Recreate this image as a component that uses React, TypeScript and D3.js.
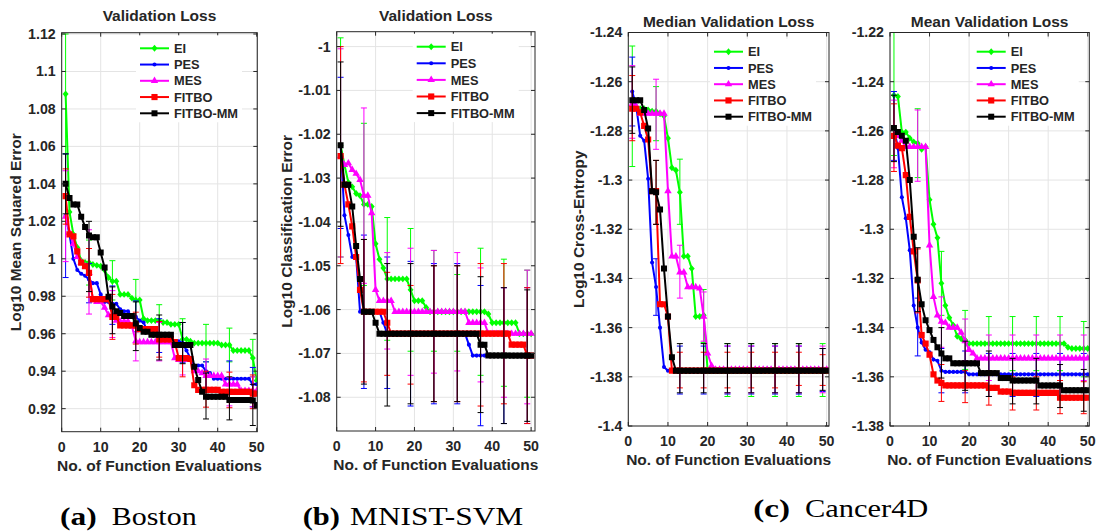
import React from "react";
import * as d3 from "d3";

// ---------------- DATA ----------------
const evals = [1, 2, 3, 4, 5, 6, 7, 8, 9, 10, 11, 12, 13, 14, 15, 16, 17, 18, 19, 20,
  21, 22, 23, 24, 25, 26, 27, 28, 29, 30, 31, 32, 33, 34, 35, 36, 37, 38, 39, 40,
  41, 42, 43, 44, 45, 46, 47, 48, 49, 50];
const errEvals = [1, 7, 13, 19, 25, 31, 37, 43, 49];
const xTicks = [0, 10, 20, 30, 40, 50];
const methods = ["EI", "PES", "MES", "FITBO", "FITBO-MM"];

// (a) Boston
const bostonYTicks = [0.92, 0.94, 0.96, 0.98, 1, 1.02, 1.04, 1.06, 1.08, 1.1, 1.12];
const bostonEI = [1.088, 1.025, 1.013, 1.006, 0.999, 0.998, 0.998, 0.997, 0.9965, 0.996,
  0.994, 0.990, 0.988, 0.988, 0.981, 0.981, 0.981, 0.979, 0.978, 0.978,
  0.968, 0.967, 0.967, 0.967, 0.967, 0.966, 0.966, 0.965, 0.965, 0.965,
  0.957, 0.957, 0.956, 0.955, 0.955, 0.955, 0.955, 0.955, 0.955, 0.955,
  0.954, 0.954, 0.954, 0.951, 0.951, 0.951, 0.951, 0.951, 0.947, 0.935];
const bostonPES = [1.023, 1.013, 1.000, 0.994, 0.992, 0.991, 0.989, 0.987, 0.987, 0.981,
  0.977, 0.977, 0.976, 0.976, 0.973, 0.972, 0.972, 0.969, 0.969, 0.967,
  0.966, 0.961, 0.960, 0.960, 0.960, 0.959, 0.956, 0.956, 0.956, 0.956,
  0.955, 0.951, 0.947, 0.943, 0.943, 0.943, 0.940, 0.939, 0.936, 0.936,
  0.936, 0.936, 0.936, 0.936, 0.936, 0.936, 0.936, 0.936, 0.933, 0.933];
const bostonMES = [1.0225, 1.014, 1.008, 1.001, 0.998, 0.996, 0.9925, 0.978, 0.977, 0.977,
  0.974, 0.970, 0.970, 0.967, 0.9665, 0.9665, 0.9665, 0.964, 0.956, 0.9555,
  0.9555, 0.9555, 0.9555, 0.9555, 0.9555, 0.9555, 0.9555, 0.9555, 0.947, 0.946,
  0.946, 0.946, 0.946, 0.940, 0.940, 0.939, 0.9375, 0.9375, 0.9375, 0.9375,
  0.9375, 0.933, 0.933, 0.933, 0.933, 0.9295, 0.9295, 0.9295, 0.9295, 0.9295];
const bostonFITBO = [1.0335, 1.013, 1.012, 1.004, 0.998, 0.996, 0.9925, 0.9785, 0.9785, 0.9785,
  0.9785, 0.9785, 0.969, 0.969, 0.9645, 0.9645, 0.9645, 0.9645, 0.9645, 0.9625,
  0.9625, 0.9625, 0.9625, 0.9625, 0.957, 0.957, 0.957, 0.957, 0.9555, 0.947,
  0.947, 0.947, 0.9465, 0.9325, 0.930, 0.930, 0.930, 0.930, 0.930, 0.930,
  0.929, 0.929, 0.929, 0.929, 0.929, 0.929, 0.929, 0.929, 0.928, 0.928];
const bostonFITBOMM = [1.040, 1.0325, 1.029, 1.029, 1.0225, 1.017, 1.0125, 1.0115, 1.0115, 1.0033,
  0.9953, 0.9798, 0.9745, 0.972, 0.971, 0.9695, 0.9695, 0.9695, 0.9655, 0.963,
  0.961, 0.961, 0.9595, 0.9595, 0.9595, 0.9595, 0.9595, 0.9595, 0.954, 0.954,
  0.954, 0.954, 0.954, 0.9424, 0.9353, 0.929, 0.9264, 0.9264, 0.9264, 0.9264,
  0.9264, 0.9264, 0.9246, 0.9246, 0.9246, 0.9246, 0.9246, 0.9246, 0.9243, 0.922];
const bostonEIErr = [[1.056, 1.12], [0.986, 1.010], [0.978, 0.999], [0.967, 0.989], [0.958, 0.9755],
  [0.947, 0.968], [0.945, 0.965], [0.945, 0.963], [0.937, 0.957]];
const bostonPESErr = [[0.99, 1.056], [0.9765, 0.9975], [0.965, 0.9855], [0.961, 0.9775], [0.950, 0.968],
  [0.9445, 0.966], [0.931, 0.945], [0.925, 0.9455], [0.921, 0.942]];
const bostonMESErr = [[0.9985, 1.047], [0.9705, 1.0155], [0.958, 0.983], [0.9455, 0.966], [0.9455, 0.966],
  [0.938, 0.955], [0.929, 0.9465], [0.9215, 0.9365], [0.921, 0.937]];
const bostonFITBOErr = [[1.0185, 1.048], [0.9795, 1.0055], [0.957, 0.981], [0.9545, 0.9715], [0.9475, 0.9665],
  [0.937, 0.955], [0.9208, 0.940], [0.9205, 0.9395], [0.920, 0.938]];
const bostonFITBOMMErr = [[1.024, 1.056], [0.9825, 1.02], [0.960, 0.985], [0.951, 0.977], [0.946, 0.970],
  [0.944, 0.966], [0.9145, 0.939], [0.914, 0.937], [0.911, 0.933]];

// (b) MNIST-SVM
const mnistYTicks = [-1.08, -1.07, -1.06, -1.05, -1.04, -1.03, -1.02, -1.01, -1];
const mnistEI = [-1.0225, -1.027, -1.031, -1.032, -1.0335, -1.034, -1.036, -1.036, -1.0365, -1.045,
  -1.0485, -1.0505, -1.053, -1.053, -1.053, -1.053, -1.053, -1.053, -1.0555, -1.058,
  -1.058, -1.058, -1.0595, -1.0605, -1.0605, -1.0605, -1.0605, -1.0605, -1.0605, -1.0605,
  -1.0605, -1.0605, -1.0605, -1.0605, -1.0605, -1.0605, -1.0605, -1.0605, -1.061, -1.063,
  -1.063, -1.063, -1.063, -1.063, -1.063, -1.063, -1.0655, -1.0655, -1.0655, -1.0655];
const mnistPES = [-1.0225, -1.0385, -1.043, -1.048, -1.048, -1.0605, -1.0605, -1.0605, -1.0605, -1.0605,
  -1.0605, -1.063, -1.0655, -1.0655, -1.0655, -1.0655, -1.0655, -1.0655, -1.0655, -1.0655,
  -1.0655, -1.0655, -1.0655, -1.0655, -1.0655, -1.0655, -1.0655, -1.0655, -1.0655, -1.0655,
  -1.0655, -1.0655, -1.0655, -1.068, -1.0705, -1.0705, -1.0705, -1.0705, -1.0705, -1.0705,
  -1.0705, -1.0705, -1.0705, -1.0705, -1.0705, -1.0705, -1.0705, -1.0705, -1.0705, -1.0705];
const mnistMES = [-1.025, -1.027, -1.0266, -1.0281, -1.029, -1.0304, -1.034, -1.034, -1.038, -1.0555,
  -1.058, -1.058, -1.058, -1.058, -1.0605, -1.0605, -1.0605, -1.0605, -1.0605, -1.0605,
  -1.0605, -1.0605, -1.0605, -1.0605, -1.0605, -1.0605, -1.0605, -1.0605, -1.0605, -1.0605,
  -1.0605, -1.0605, -1.0605, -1.063, -1.063, -1.063, -1.063, -1.063, -1.0655, -1.0655,
  -1.0655, -1.0655, -1.0655, -1.0655, -1.0655, -1.0655, -1.0655, -1.0655, -1.0655, -1.0655];
const mnistFITBO = [-1.025, -1.0315, -1.036, -1.041, -1.048, -1.0555, -1.0605, -1.0605, -1.0605, -1.0605,
  -1.0605, -1.0605, -1.063, -1.0655, -1.0655, -1.0655, -1.0655, -1.0655, -1.0655, -1.0655,
  -1.0655, -1.0655, -1.0655, -1.0655, -1.0655, -1.0655, -1.0655, -1.0655, -1.0655, -1.0655,
  -1.0655, -1.0655, -1.0655, -1.0655, -1.0655, -1.0655, -1.0655, -1.0655, -1.0655, -1.0655,
  -1.0655, -1.0655, -1.0655, -1.0655, -1.068, -1.068, -1.068, -1.068, -1.0705, -1.0705];
const mnistFITBOMM = [-1.0225, -1.0315, -1.0315, -1.0365, -1.0455, -1.053, -1.0605, -1.0605, -1.0605, -1.063,
  -1.0655, -1.0655, -1.0655, -1.0655, -1.0655, -1.0655, -1.0655, -1.0655, -1.0655, -1.0655,
  -1.0655, -1.0655, -1.0655, -1.0655, -1.0655, -1.0655, -1.0655, -1.0655, -1.0655, -1.0655,
  -1.0655, -1.0655, -1.0655, -1.0655, -1.0655, -1.0655, -1.068, -1.068, -1.0705, -1.0705,
  -1.0705, -1.0705, -1.0705, -1.0705, -1.0705, -1.0705, -1.0705, -1.0705, -1.0705, -1.0705];
const mnistEIErr = [[-1.048, -0.998], [-1.0545, -1.0175], [-1.067, -1.039], [-1.0695, -1.0415], [-1.0695, -1.0465],
  [-1.0695, -1.052], [-1.075, -1.046], [-1.0775, -1.0485], [-1.080, -1.051]];
const mnistPESErr = [[-1.0415, -1.007], [-1.078, -1.043], [-1.078, -1.048], [-1.082, -1.049], [-1.0815, -1.0495],
  [-1.0815, -1.0495], [-1.0865, -1.0545], [-1.086, -1.055], [-1.086, -1.055]];
const mnistMESErr = [[-1.048, -1.0005], [-1.054, -1.014], [-1.069, -1.047], [-1.075, -1.046], [-1.0745, -1.0465],
  [-1.074, -1.047], [-1.0765, -1.0505], [-1.080, -1.055], [-1.0815, -1.051]];
const mnistFITBOErr = [[-1.0495, -1.0], [-1.0765, -1.044], [-1.075, -1.0515], [-1.077, -1.0545], [-1.081, -1.05],
  [-1.081, -1.05], [-1.082, -1.0495], [-1.0815, -1.0495], [-1.086, -1.055]];
const mnistFITBOMMErr = [[-1.041, -1.0035], [-1.077, -1.044], [-1.082, -1.0495], [-1.0815, -1.0495], [-1.081, -1.05],
  [-1.081, -1.05], [-1.0835, -1.0525], [-1.086, -1.055], [-1.0855, -1.0555]];

// (c) Cancer4D — median
const medianYTicks = [-1.4, -1.38, -1.36, -1.34, -1.32, -1.3, -1.28, -1.26, -1.24];
const medianEI = [-1.270, -1.2705, -1.271, -1.271, -1.2715, -1.272, -1.272, -1.273, -1.274, -1.283,
  -1.295, -1.296, -1.305, -1.331, -1.331, -1.336, -1.3555, -1.3555, -1.355, -1.3775,
  -1.3775, -1.3775, -1.3775, -1.3775, -1.3775, -1.3775, -1.3775, -1.3775, -1.3775, -1.3775,
  -1.3775, -1.3775, -1.3775, -1.3775, -1.3775, -1.3775, -1.3775, -1.3775, -1.3775, -1.3775,
  -1.3775, -1.3775, -1.3775, -1.3775, -1.3775, -1.3775, -1.3775, -1.3775, -1.3775, -1.3775];
const medianPES = [-1.264, -1.27, -1.282, -1.284, -1.2995, -1.3335, -1.3435, -1.360, -1.376, -1.3775,
  -1.3775, -1.3775, -1.3775, -1.3775, -1.3775, -1.3775, -1.3775, -1.3775, -1.3775, -1.3775,
  -1.3775, -1.3775, -1.3775, -1.3775, -1.3775, -1.3775, -1.3775, -1.3775, -1.3775, -1.3775,
  -1.3775, -1.3775, -1.3775, -1.3775, -1.3775, -1.3775, -1.3775, -1.3775, -1.3775, -1.3775,
  -1.3775, -1.3775, -1.3775, -1.3775, -1.3775, -1.3775, -1.3775, -1.3775, -1.3775, -1.3775];
const medianMES = [-1.269, -1.27, -1.273, -1.273, -1.273, -1.273, -1.273, -1.273, -1.273, -1.3045,
  -1.331, -1.331, -1.3375, -1.3375, -1.3435, -1.3435, -1.3435, -1.344, -1.3555, -1.3705,
  -1.3755, -1.377, -1.377, -1.377, -1.377, -1.377, -1.377, -1.377, -1.377, -1.377,
  -1.377, -1.377, -1.377, -1.377, -1.377, -1.377, -1.377, -1.377, -1.377, -1.377,
  -1.377, -1.377, -1.377, -1.377, -1.377, -1.377, -1.377, -1.377, -1.377, -1.377];
const medianFITBO = [-1.271, -1.271, -1.2725, -1.278, -1.2835, -1.3045, -1.3045, -1.3505, -1.3505, -1.3555,
  -1.3775, -1.3775, -1.3775, -1.3775, -1.3775, -1.3775, -1.3775, -1.3775, -1.3775, -1.3775,
  -1.3775, -1.3775, -1.3775, -1.3775, -1.3775, -1.3775, -1.3775, -1.3775, -1.3775, -1.3775,
  -1.3775, -1.3775, -1.3775, -1.3775, -1.3775, -1.3775, -1.3775, -1.3775, -1.3775, -1.3775,
  -1.3775, -1.3775, -1.3775, -1.3775, -1.3775, -1.3775, -1.3775, -1.3775, -1.3775, -1.3775];
const medianFITBOMM = [-1.2675, -1.2675, -1.2675, -1.2715, -1.279, -1.3045, -1.305, -1.312, -1.336, -1.3555,
  -1.372, -1.3775, -1.3775, -1.3775, -1.3775, -1.3775, -1.3775, -1.3775, -1.3775, -1.3775,
  -1.3775, -1.3775, -1.3775, -1.3775, -1.3775, -1.3775, -1.3775, -1.3775, -1.3775, -1.3775,
  -1.3775, -1.3775, -1.3775, -1.3775, -1.3775, -1.3775, -1.3775, -1.3775, -1.3775, -1.3775,
  -1.3775, -1.3775, -1.3775, -1.3775, -1.3775, -1.3775, -1.3775, -1.3775, -1.3775, -1.3775];
const medianEIErr = [[-1.2945, -1.2455], [-1.284, -1.262], [-1.318, -1.2915], [-1.366, -1.3445], [-1.388, -1.3665],
  [-1.388, -1.3665], [-1.388, -1.3665], [-1.388, -1.3665], [-1.388, -1.3665]];
const medianPESErr = [[-1.278, -1.25], [-1.355, -1.332], [-1.387, -1.3675], [-1.387, -1.3675], [-1.387, -1.3675],
  [-1.387, -1.3675], [-1.387, -1.3675], [-1.387, -1.3675], [-1.386, -1.3685]];
const medianMESErr = [[-1.283, -1.2535], [-1.2875, -1.259], [-1.348, -1.3265], [-1.3655, -1.3455], [-1.3865, -1.3675],
  [-1.3865, -1.3675], [-1.3865, -1.3675], [-1.3865, -1.3675], [-1.3865, -1.3675]];
const medianFITBOErr = [[-1.284, -1.2575], [-1.318, -1.292], [-1.3845, -1.37], [-1.3845, -1.37], [-1.3845, -1.37],
  [-1.3845, -1.37], [-1.3845, -1.37], [-1.3835, -1.37], [-1.3835, -1.371]];
const medianFITBOMMErr = [[-1.281, -1.254], [-1.318, -1.292], [-1.3865, -1.3665], [-1.3865, -1.3665], [-1.3865, -1.3665],
  [-1.3865, -1.3665], [-1.3865, -1.3665], [-1.3865, -1.3665], [-1.3855, -1.3685]];

// (c) Cancer4D — mean
const meanYTicks = [-1.38, -1.36, -1.34, -1.32, -1.3, -1.28, -1.26, -1.24, -1.22];
const meanEI = [-1.2455, -1.246, -1.2605, -1.2605, -1.263, -1.2645, -1.265, -1.2675, -1.2665, -1.288,
  -1.298, -1.3035, -1.322, -1.331, -1.336, -1.339, -1.3435, -1.3445, -1.345, -1.3465,
  -1.3465, -1.3465, -1.3465, -1.3465, -1.3465, -1.3465, -1.3465, -1.3465, -1.3465, -1.3465,
  -1.3465, -1.3465, -1.3465, -1.3465, -1.3465, -1.3465, -1.3465, -1.3465, -1.3465, -1.3465,
  -1.3465, -1.3465, -1.3465, -1.3465, -1.348, -1.3485, -1.3485, -1.3485, -1.3485, -1.3485];
const meanPES = [-1.2585, -1.267, -1.287, -1.2955, -1.3085, -1.331, -1.34, -1.346, -1.349, -1.350,
  -1.353, -1.3535, -1.3575, -1.358, -1.358, -1.358, -1.358, -1.358, -1.358, -1.359,
  -1.359, -1.359, -1.359, -1.359, -1.359, -1.359, -1.359, -1.359, -1.359, -1.359,
  -1.359, -1.359, -1.359, -1.359, -1.359, -1.359, -1.359, -1.359, -1.359, -1.359,
  -1.359, -1.359, -1.359, -1.359, -1.359, -1.359, -1.359, -1.359, -1.359, -1.359];
const meanMES = [-1.259, -1.262, -1.264, -1.2665, -1.2665, -1.2665, -1.2665, -1.2665, -1.2665, -1.3065,
  -1.3275, -1.335, -1.3375, -1.338, -1.340, -1.340, -1.340, -1.342, -1.3455, -1.349,
  -1.3505, -1.3525, -1.3525, -1.3525, -1.3525, -1.3525, -1.3525, -1.3525, -1.3525, -1.3525,
  -1.3525, -1.3525, -1.3525, -1.3525, -1.3525, -1.3525, -1.3525, -1.3525, -1.3525, -1.3525,
  -1.3525, -1.3525, -1.3525, -1.3525, -1.3525, -1.3525, -1.3525, -1.3525, -1.3525, -1.3525];
const meanFITBO = [-1.262, -1.266, -1.267, -1.278, -1.295, -1.309, -1.3208, -1.343, -1.3465, -1.351,
  -1.359, -1.3615, -1.3625, -1.3635, -1.3635, -1.3635, -1.3635, -1.3635, -1.3635, -1.3635,
  -1.3635, -1.3635, -1.3635, -1.3635, -1.3645, -1.3645, -1.3645, -1.366, -1.366, -1.366,
  -1.3665, -1.3665, -1.3665, -1.3665, -1.3665, -1.3665, -1.3665, -1.3665, -1.3665, -1.3665,
  -1.3665, -1.3665, -1.3685, -1.3685, -1.3685, -1.3685, -1.3685, -1.3685, -1.3685, -1.3685];
const meanFITBOMM = [-1.2588, -1.2605, -1.262, -1.264, -1.28, -1.303, -1.3205, -1.3305, -1.337, -1.341,
  -1.345, -1.348, -1.3505, -1.3525, -1.3525, -1.3545, -1.3545, -1.3545, -1.3545, -1.3545,
  -1.3545, -1.3545, -1.3585, -1.3585, -1.3585, -1.3585, -1.3585, -1.3605, -1.3605, -1.3605,
  -1.3615, -1.3615, -1.3615, -1.3615, -1.3615, -1.3615, -1.3615, -1.3635, -1.3635, -1.3635,
  -1.3635, -1.3635, -1.3635, -1.3655, -1.3655, -1.3655, -1.3655, -1.3655, -1.3655, -1.3655];
const meanEIErr = [[-1.27, -1.22], [-1.279, -1.251], [-1.335, -1.309], [-1.357, -1.333], [-1.3575, -1.3355],
  [-1.3575, -1.3355], [-1.3575, -1.3355], [-1.3575, -1.3355], [-1.36, -1.3375]];
const meanPESErr = [[-1.272, -1.244], [-1.3515, -1.328], [-1.3665, -1.3485], [-1.3665, -1.3495], [-1.368, -1.3505],
  [-1.368, -1.3505], [-1.368, -1.3505], [-1.368, -1.3505], [-1.368, -1.3505]];
const meanMESErr = [[-1.275, -1.2475], [-1.2805, -1.2515], [-1.348, -1.3275], [-1.3535, -1.3365], [-1.3615, -1.343],
  [-1.3615, -1.343], [-1.3615, -1.343], [-1.3615, -1.343], [-1.3615, -1.343]];
const meanFITBOErr = [[-1.2765, -1.249], [-1.334, -1.308], [-1.370, -1.355], [-1.3705, -1.3575], [-1.3715, -1.3575],
  [-1.3735, -1.36], [-1.3735, -1.36], [-1.375, -1.3615], [-1.375, -1.362]];
const meanFITBOMMErr = [[-1.2725, -1.2455], [-1.3335, -1.3075], [-1.3605, -1.340], [-1.3655, -1.3455], [-1.368, -1.3495],
  [-1.371, -1.3525], [-1.371, -1.3525], [-1.3725, -1.355], [-1.374, -1.357]];

// ---------------- STYLE / LAYOUT ----------------
const SANS = "'Liberation Sans', Arial, Helvetica, sans-serif";
const SERIF = "'Liberation Serif', 'Times New Roman', serif";
const TXT = "#262626";
const COLORS: Record<string, string> = {
  EI: "#00ff00", PES: "#0000ff", MES: "#ff00ff", FITBO: "#ff0000", "FITBO-MM": "#000000",
};

const diamondType = {
  draw(ctx: any, size: number) {
    const h = Math.sqrt(size) * 0.68;
    const w = h * 0.85;
    ctx.moveTo(0, -h); ctx.lineTo(w, 0); ctx.lineTo(0, h); ctx.lineTo(-w, 0); ctx.closePath();
  },
};
const markerPath: Record<string, string> = {
  EI: d3.symbol().type(diamondType as any).size(26)() as string,
  PES: d3.symbol().type(d3.symbolCircle).size(13)() as string,
  MES: d3.symbol().type(d3.symbolTriangle).size(24)() as string,
  FITBO: d3.symbol().type(d3.symbolSquare).size(38)() as string,
  "FITBO-MM": d3.symbol().type(d3.symbolSquare).size(36)() as string,
};

type PanelCfg = {
  id: string; title: string; ylabel?: string;
  left: number; right: number; top: number; bottom: number;
  xMax: number; yDomain: [number, number]; yTicks: number[];
  series: number[][]; errs: number[][][];
  titleY: number; ylabelX?: number;
  legend: { x: number; y: number; dy: number };
};

const panels: PanelCfg[] = [
  {
    id: "boston", title: "Validation Loss", ylabel: "Log10 Mean Squared Error",
    left: 61.7, right: 257.3, top: 32.7, bottom: 431.7, xMax: 50.15,
    yDomain: [0.9077, 1.1207], yTicks: bostonYTicks,
    series: [bostonEI, bostonPES, bostonMES, bostonFITBO, bostonFITBOMM],
    errs: [bostonEIErr, bostonPESErr, bostonMESErr, bostonFITBOErr, bostonFITBOMMErr],
    titleY: 20.5, ylabelX: 20.5, legend: { x: 140, y: 48.3, dy: 16.25 },
  },
  {
    id: "mnist", title: "Validation Loss", ylabel: "Log10 Classification Error",
    left: 336.7, right: 535, top: 31.7, bottom: 431, xMax: 51,
    yDomain: [-1.0877, -0.9966], yTicks: mnistYTicks,
    series: [mnistEI, mnistPES, mnistMES, mnistFITBO, mnistFITBOMM],
    errs: [mnistEIErr, mnistPESErr, mnistMESErr, mnistFITBOErr, mnistFITBOMMErr],
    titleY: 20.5, ylabelX: 292, legend: { x: 416.7, y: 46.7, dy: 16.6 },
  },
  {
    id: "median", title: "Median Validation Loss", ylabel: "Log10 Cross-Entropy",
    left: 628.3, right: 829, top: 32.5, bottom: 426, xMax: 50.6,
    yDomain: [-1.4, -1.24], yTicks: medianYTicks,
    series: [medianEI, medianPES, medianMES, medianFITBO, medianFITBOMM],
    errs: [medianEIErr, medianPESErr, medianMESErr, medianFITBOErr, medianFITBOMMErr],
    titleY: 26.5, ylabelX: 584, legend: { x: 714, y: 51.7, dy: 16.25 },
  },
  {
    id: "mean", title: "Mean Validation Loss",
    left: 890, right: 1089.3, top: 32.5, bottom: 426, xMax: 50.4,
    yDomain: [-1.38, -1.22], yTicks: meanYTicks,
    series: [meanEI, meanPES, meanMES, meanFITBO, meanFITBOMM],
    errs: [meanEIErr, meanPESErr, meanMESErr, meanFITBOErr, meanFITBOMMErr],
    titleY: 26.5, legend: { x: 976.7, y: 51.7, dy: 16.25 },
  },
];

const fmt = (v: number) => String(+v.toFixed(2));

function Panel({ cfg }: { cfg: PanelCfg }) {
  const x = d3.scaleLinear().domain([0, cfg.xMax]).range([cfg.left, cfg.right]);
  const y = d3.scaleLinear().domain(cfg.yDomain).range([cfg.bottom, cfg.top]);
  const line = d3.line<number>().x((_, i) => x(evals[i])).y((d) => y(d));
  const clipId = `clip-${cfg.id}`;
  const tk = 4;
  const cx = (cfg.left + cfg.right) / 2;
  const cy = (cfg.top + cfg.bottom) / 2;
  const lg = cfg.legend;
  const lineLen = 29;
  const textX = lg.x + lineLen + 5;
  return (
    <g>
      <defs>
        <clipPath id={clipId}>
          <rect x={cfg.left} y={cfg.top} width={cfg.right - cfg.left} height={cfg.bottom - cfg.top} />
        </clipPath>
      </defs>
      {/* grid */}
      <g stroke="#e4e4e4" strokeWidth={1}>
        {xTicks.map((t) => (
          <line key={`gx${t}`} x1={x(t)} x2={x(t)} y1={cfg.top} y2={cfg.bottom} />
        ))}
        {cfg.yTicks.map((t) => (
          <line key={`gy${t}`} x1={cfg.left} x2={cfg.right} y1={y(t)} y2={y(t)} />
        ))}
      </g>
      {/* data */}
      <g clipPath={`url(#${clipId})`}>
        {methods.map((m, si) => {
          const col = COLORS[m];
          const vals = cfg.series[si];
          return (
            <g key={m}>
              <g stroke={col} strokeWidth={1}>
                {cfg.errs[si].map((e, k) => {
                  const ex = x(errEvals[k]);
                  return (
                    <g key={k}>
                      <line x1={ex} x2={ex} y1={y(e[0])} y2={y(e[1])} />
                      <line x1={ex - 3} x2={ex + 3} y1={y(e[0])} y2={y(e[0])} />
                      <line x1={ex - 3} x2={ex + 3} y1={y(e[1])} y2={y(e[1])} />
                    </g>
                  );
                })}
              </g>
              <path d={line(vals) as string} fill="none" stroke={col} strokeWidth={2} strokeLinejoin="round" />
              {vals.map((v, i) => (
                <path key={i} d={markerPath[m]} transform={`translate(${x(evals[i])},${y(v)})`} fill={col} />
              ))}
            </g>
          );
        })}
      </g>
      {/* box & ticks */}
      <rect x={cfg.left} y={cfg.top} width={cfg.right - cfg.left} height={cfg.bottom - cfg.top}
        fill="none" stroke={TXT} strokeWidth={1} />
      <g stroke={TXT} strokeWidth={1}>
        {xTicks.map((t) => (
          <g key={`tx${t}`}>
            <line x1={x(t)} x2={x(t)} y1={cfg.bottom} y2={cfg.bottom - tk} />
            <line x1={x(t)} x2={x(t)} y1={cfg.top} y2={cfg.top + tk} />
          </g>
        ))}
        {cfg.yTicks.map((t) => (
          <g key={`ty${t}`}>
            <line x1={cfg.left} x2={cfg.left + tk} y1={y(t)} y2={y(t)} />
            <line x1={cfg.right} x2={cfg.right - tk} y1={y(t)} y2={y(t)} />
          </g>
        ))}
      </g>
      {/* tick labels */}
      <g fontFamily={SANS} fontWeight="bold" fontSize={14.2} fill={TXT}>
        {xTicks.map((t) => (
          <text key={`lx${t}`} x={x(t)} y={cfg.bottom + 20} textAnchor="middle">{t}</text>
        ))}
        {cfg.yTicks.map((t) => (
          <text key={`ly${t}`} x={cfg.left - 6} y={y(t)} dy="0.35em" textAnchor="end">{fmt(t)}</text>
        ))}
      </g>
      {/* labels */}
      <g fontFamily={SANS} fontWeight="bold" fontSize={15.5} fill={TXT}>
        <text x={cx} y={cfg.titleY} textAnchor="middle">{cfg.title}</text>
        <text x={cx} y={cfg.bottom + 39} textAnchor="middle">No. of Function Evaluations</text>
        {cfg.ylabel && cfg.ylabelX !== undefined && (
          <text transform={`translate(${cfg.ylabelX},${cy}) rotate(-90)`} textAnchor="middle">{cfg.ylabel}</text>
        )}
      </g>
      {/* legend */}
      <g>
        <rect x={lg.x - 4} y={lg.y - 13} width={lineLen + 5 + 72} height={lg.dy * 4 + 22} fill="#ffffff" />
        {methods.map((m, i) => {
          const ly = lg.y + i * lg.dy;
          return (
            <g key={`lg${m}`}>
              <line x1={lg.x} x2={lg.x + lineLen} y1={ly} y2={ly} stroke={COLORS[m]} strokeWidth={2} />
              <path d={markerPath[m]} transform={`translate(${lg.x + lineLen / 2},${ly})`} fill={COLORS[m]} />
              <text x={textX} y={ly} dy="0.36em" fontFamily={SANS} fontWeight="bold" fontSize={12.8} fill={TXT}>{m}</text>
            </g>
          );
        })}
      </g>
    </g>
  );
}

const captions = [
  { tag: "(a)", name: "Boston", x: 60, nameX: 111.7, tagW: 36.7, nameW: 85, y: 525 },
  { tag: "(b)", name: "MNIST-SVM", x: 302.7, nameX: 350, tagW: 37.3, nameW: 173.3, y: 525 },
  { tag: "(c)", name: "Cancer4D", x: 753.3, nameX: 805, tagW: 36.7, nameW: 123.3, y: 517 },
];

export default function App() {
  return (
    <svg width={1097} height={532} style={{ position: "absolute", left: 0, top: 0, background: "#fff" }}>
      <rect x={0} y={0} width={1097} height={532} fill="#ffffff" />
      {panels.map((p) => (
        <Panel key={p.id} cfg={p} />
      ))}
      <g fontFamily={SERIF} fontSize={25} fill="#000">
        {captions.map((c) => (
          <g key={c.tag}>
            <text x={c.x} y={c.y} fontWeight="bold" textLength={c.tagW} lengthAdjust="spacingAndGlyphs">{c.tag}</text>
            <text x={c.nameX} y={c.y} textLength={c.nameW} lengthAdjust="spacingAndGlyphs">{c.name}</text>
          </g>
        ))}
      </g>
    </svg>
  );
}
